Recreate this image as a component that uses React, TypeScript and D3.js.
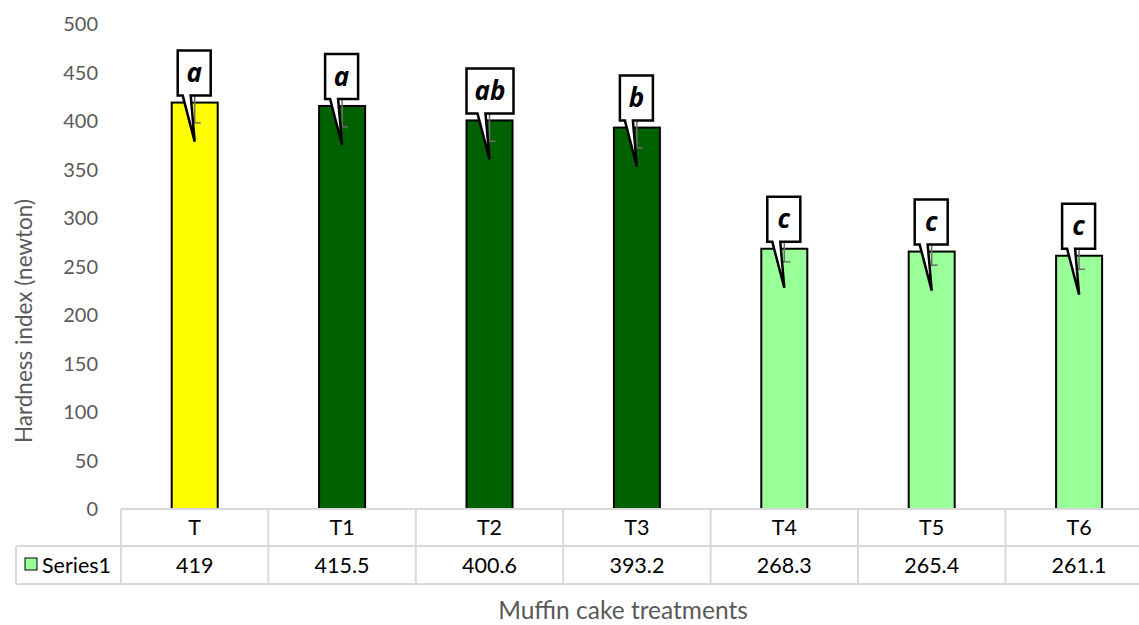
import React from "react";
import * as d3 from "d3";

const categories = ["T", "T1", "T2", "T3", "T4", "T5", "T6"];
const values = [419, 415.5, 400.6, 393.2, 268.3, 265.4, 261.1];
const errors = [21, 21.5, 21.5, 21, 13.5, 14, 14];
const letters = ["a", "a", "ab", "b", "c", "c", "c"];
const barColors = ["#FFFF00", "#006100", "#006100", "#006100", "#99FF99", "#99FF99", "#99FF99"];
const yTicks = [0, 50, 100, 150, 200, 250, 300, 350, 400, 450, 500];
const seriesName = "Series1";

const W = 1139;
const H = 625;
const FONT = "Lato, 'Open Sans', sans-serif";

export default function App() {
  const x = d3.scaleBand<string>().domain(categories).range([121, 121 + 7 * 147.4]).paddingInner(0).paddingOuter(0);
  const y = d3.scaleLinear().domain([0, 500]).range([509, 24]);
  const bw = 46;
  const grid = "#D9D9D9";
  const rowTop = 509, rowMid = 546, rowBot = 584;
  const tableRight = x.range()[1];

  return (
    <svg width={W} height={H} style={{ position: "absolute", left: 0, top: 0, background: "#fff" }} fontFamily={FONT}>
      {/* y tick labels */}
      {yTicks.map((t) => (
        <text key={t} x={98} y={y(t)} dy="0.35em" textAnchor="end" fontSize={20} fill="#595959">{t}</text>
      ))}
      {/* y axis title */}
      <text transform={`translate(32,321) rotate(-90)`} textAnchor="middle" fontSize={22.5} fill="#595959">Hardness index (newton)</text>
      {/* bars */}
      {categories.map((c, i) => {
        const cx = x(c)! + x.bandwidth() / 2;
        return (
          <rect key={c} x={cx - bw / 2} y={y(values[i])} width={bw} height={y(0) - y(values[i])} fill={barColors[i]} stroke="#000" strokeWidth={2} />
        );
      })}
      {/* error bars */}
      {categories.map((c, i) => {
        const cx = x(c)! + x.bandwidth() / 2;
        const top = y(values[i] + errors[i]);
        const bot = y(values[i] - errors[i]);
        return (
          <g key={c} stroke="#6E6E6E" strokeWidth={1.5}>
            <line x1={cx} x2={cx} y1={top} y2={bot} />
            <line x1={cx - 6} x2={cx + 6} y1={top} y2={top} />
            <line x1={cx - 6} x2={cx + 6} y1={bot} y2={bot} />
          </g>
        );
      })}
      {/* callouts */}
      {categories.map((c, i) => {
        const cx = x(c)! + x.bandwidth() / 2;
        const barTop = y(values[i]);
        const bottom = barTop - 7;
        const top = bottom - 45;
        const wide = letters[i].length > 1;
        const left = wide ? cx - 23 : cx - 17;
        const right = wide ? cx + 24 : cx + 16;
        const tip = barTop + 39;
        const path = `M${left},${top} L${right},${top} L${right},${bottom} L${cx - 4},${bottom} L${cx},${tip} L${cx - 12},${bottom} L${left},${bottom} Z`;
        return (
          <g key={c}>
            <path d={path} fill="#fff" stroke="#000" strokeWidth={2.5} strokeLinejoin="miter" />
            <text x={(left + right) / 2} y={(top + bottom) / 2} dy="0.35em" textAnchor="middle" fontSize={26} fontWeight="bold" fontStyle="italic" fill="#000" fontFamily="'Open Sans', sans-serif">{letters[i]}</text>
          </g>
        );
      })}
      {/* data table */}
      <g stroke={grid} strokeWidth={2}>
        <line x1={121} x2={tableRight} y1={rowTop} y2={rowTop} />
        <line x1={16} x2={tableRight} y1={rowMid} y2={rowMid} />
        <line x1={16} x2={tableRight} y1={rowBot} y2={rowBot} />
        <line x1={16} x2={16} y1={rowMid} y2={rowBot} />
        {categories.map((c) => (
          <line key={c} x1={x(c)!} x2={x(c)!} y1={rowTop} y2={rowBot} />
        ))}
        <line x1={tableRight} x2={tableRight} y1={rowTop} y2={rowBot} />
      </g>
      {categories.map((c, i) => {
        const cx = x(c)! + x.bandwidth() / 2;
        return (
          <g key={c}>
            <text x={cx} y={(rowTop + rowMid) / 2} dy="0.35em" textAnchor="middle" fontSize={21.5} fill="#000">{c}</text>
            <text x={cx} y={(rowMid + rowBot) / 2} dy="0.35em" textAnchor="middle" fontSize={21.5} fill="#000">{values[i]}</text>
          </g>
        );
      })}
      <rect x={25} y={558} width={12} height={12} fill="#99FF99" stroke="#000" strokeWidth={1} />
      <text x={42} y={(rowMid + rowBot) / 2} dy="0.35em" fontSize={21.5} fill="#000">{seriesName}</text>
      {/* x axis title */}
      <text x={623} y={619} textAnchor="middle" fontSize={24.5} fill="#595959">Muffin cake treatments</text>
    </svg>
  );
}
